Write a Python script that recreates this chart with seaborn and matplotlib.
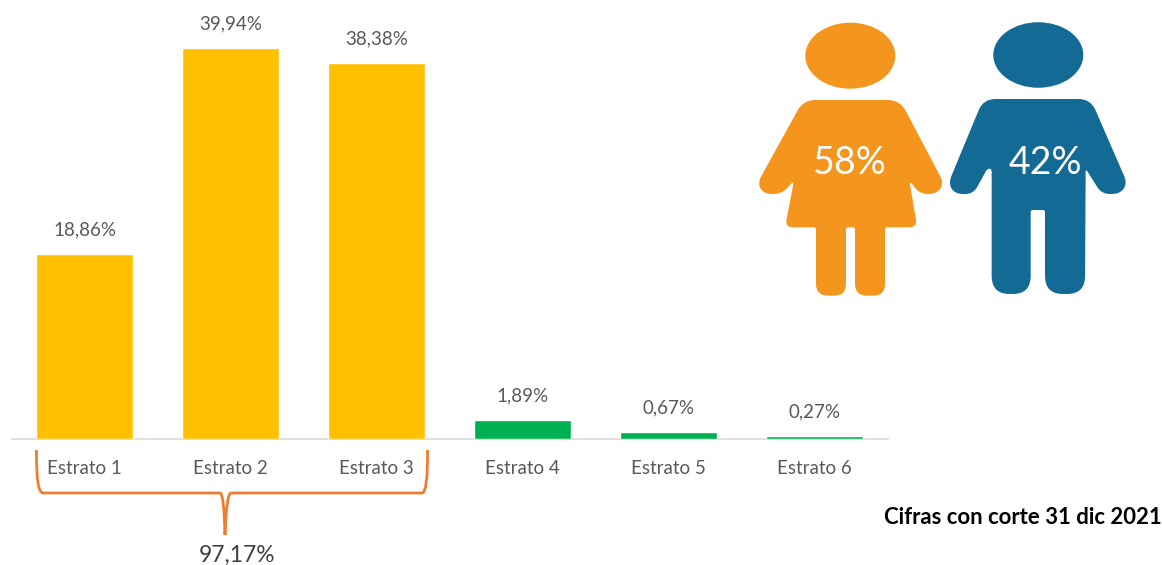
import matplotlib
matplotlib.use("Agg")
import matplotlib.pyplot as plt
import pandas as pd
import seaborn as sns
from matplotlib.patches import Ellipse, PathPatch
from matplotlib.path import Path

# ── Data ─────────────────────────────────────────────────
CATEGORIES = ["Estrato 1", "Estrato 2", "Estrato 3", "Estrato 4", "Estrato 5", "Estrato 6"]
VALUES = [18.86, 39.94, 38.38, 1.89, 0.67, 0.27]
BAR_LABELS = ["18,86%", "39,94%", "38,38%", "1,89%", "0,67%", "0,27%"]
BAR_COLORS = ["#FFC000", "#FFC000", "#FFC000", "#00B050", "#00B050", "#00B050"]
TOTAL_LABEL = "97,17%"
WOMEN_LABEL = "58%"
MEN_LABEL = "42%"
NOTE = "Cifras con corte 31 dic 2021"

W, H = 1162, 565

sns.set_theme(style="white")
plt.rcParams["font.family"] = ["Lato", "DejaVu Sans"]

fig = plt.figure(figsize=(W / 100, H / 100), dpi=100, facecolor="white")

# ── Bars ─────────────────────────────────────────────────
ax = fig.add_axes([11.5 / W, 1 - 438.5 / H, 876 / W, 438.5 / H])
df = pd.DataFrame({"estrato": CATEGORIES, "pct": VALUES})
sns.barplot(data=df, x="estrato", y="pct", hue="estrato", palette=BAR_COLORS,
            legend=False, width=0.665, saturation=1, ax=ax)
ax.set_xlim(-0.5, 5.5)
ax.set_ylim(0, 44.8)
ax.set_xlabel("")
ax.set_ylabel("")
ax.set_yticks([])
ax.patch.set_alpha(0)
sns.despine(ax=ax, left=True)
ax.spines["bottom"].set_color("#D9D9D9")
ax.spines["bottom"].set_linewidth(1.2)
ax.spines["bottom"].set_zorder(0.5)
ax.tick_params(axis="x", length=0, pad=15.5, labelsize=13.5, labelcolor="#595959")
for container, label in zip(ax.containers, BAR_LABELS):
    ax.bar_label(container, labels=[label], padding=11, fontsize=13.5, color="#595959")

# ── Overlay in pixel coords (reference zoom -> picture) ──
ov = fig.add_axes([0, 0, 1, 1])
ov.set_xlim(0, W)
ov.set_ylim(H, 0)
ov.axis("off")


def zoomed(pts):
    return [(740 + x / 3, 10 + y / 3) for x, y in pts]


def rounded_shape(pts, radii):
    # closed polygon, each corner softened with a quadratic curve
    verts, codes = [], []
    n = len(pts)
    for i, (p, r) in enumerate(zip(pts, radii)):
        a, b = pts[i - 1], pts[(i + 1) % n]
        da = ((a[0] - p[0]) ** 2 + (a[1] - p[1]) ** 2) ** 0.5
        db = ((b[0] - p[0]) ** 2 + (b[1] - p[1]) ** 2) ** 0.5
        ra, rb = min(r, da / 2), min(r, db / 2)
        start = (p[0] + (a[0] - p[0]) * ra / da, p[1] + (a[1] - p[1]) * ra / da)
        end = (p[0] + (b[0] - p[0]) * rb / db, p[1] + (b[1] - p[1]) * rb / db)
        verts.append(start)
        codes.append(Path.MOVETO if i == 0 else Path.LINETO)
        verts += [p, end]
        codes += [Path.CURVE3, Path.CURVE3]
    verts.append(verts[0])
    codes.append(Path.CLOSEPOLY)
    return Path(verts, codes)


WOMAN = zoomed([(190, 270), (480, 270), (612, 520), (590, 552), (540, 552), (508, 512),
                (532, 652), (435, 652), (435, 857), (345, 857), (345, 652), (318, 652),
                (318, 857), (228, 857), (228, 652), (135, 652), (162, 512), (125, 552),
                (72, 552), (52, 520)])
WOMAN_R = [12, 12, 8, 8, 8, 4, 8, 2, 12, 12, 2, 2, 12, 12, 2, 8, 4, 8, 8, 8]
MAN = zoomed([(730, 267), (1052, 267), (1162, 520), (1140, 552), (1085, 552), (1037, 476),
              (1035, 852), (915, 852), (915, 600), (872, 600), (872, 852), (755, 852),
              (755, 476), (742, 476), (700, 552), (645, 552), (625, 520)])
MAN_R = [12, 12, 8, 8, 8, 3, 18, 18, 2, 2, 18, 18, 3, 3, 8, 8, 8]

ORANGE, BLUE = "#F4951D", "#136A94"
ov.add_patch(PathPatch(rounded_shape(WOMAN, WOMAN_R), fc=ORANGE, ec="none"))
ov.add_patch(PathPatch(rounded_shape(MAN, MAN_R), fc=BLUE, ec="none"))
ov.add_patch(Ellipse((850.3, 55.7), 90, 66, fc=ORANGE, ec="none"))
ov.add_patch(Ellipse((1038.3, 55), 90, 65.5, fc=BLUE, ec="none"))
ov.text(850, 163, WOMEN_LABEL, color="white", fontsize=27, ha="center", va="center")
ov.text(1045, 163, MEN_LABEL, color="white", fontsize=27, ha="center", va="center")

# ── Brace under the first three strata ───────────────────
BRACE = [(36.5, 450), (36, 493), (43, 493), (220, 493), (224, 493), (225, 535),
         (226.5, 493), (231, 493), (422, 493), (428, 493), (427.5, 450)]
BRACE_CODES = [Path.MOVETO, Path.CURVE3, Path.CURVE3, Path.LINETO, Path.CURVE3, Path.CURVE3,
               Path.CURVE3, Path.CURVE3, Path.LINETO, Path.CURVE3, Path.CURVE3]
ov.add_patch(PathPatch(Path(BRACE, BRACE_CODES), fc="none", ec="#ED7D31", lw=2))
ov.text(237.5, 555, TOTAL_LABEL, color="#404040", fontsize=16.4, ha="center", va="center")
ov.text(1162, 518, NOTE, color="black", fontsize=15.9, fontweight="bold", ha="right", va="center")

fig.savefig("out.png", dpi=100)
